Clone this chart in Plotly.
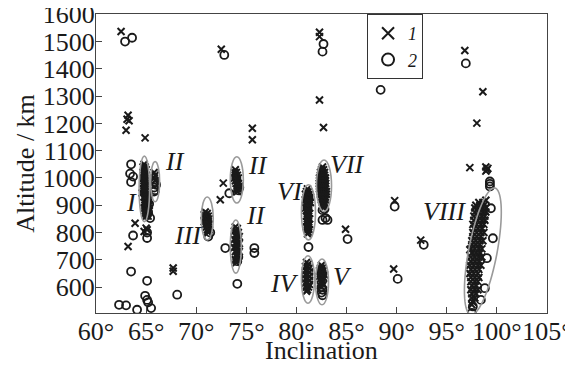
import math
import plotly.graph_objects as go

# ---------------- data (inclination deg, altitude km) ----------------
# series 1 (x markers) isolated objects
s1_x = [62.5, 63.2, 63.1, 63.3, 63.0, 64.9, 63.9, 63.2, 67.7, 67.7, 72.5, 75.6, 75.6,
        72.7, 72.4, 82.3, 82.3, 82.3, 82.7, 84.9, 89.8, 89.7, 92.4, 96.8, 98.6, 98.0,
        97.3, 98.9, 99.1, 98.9, 99.0, 97.3, 64.8, 65.0, 65.1, 98.9, 64.6]
s1_y = [1537, 1230, 1215, 1210, 1175, 1147, 834, 749, 670, 658, 1472, 1182, 1140,
        981, 920, 1534, 1518, 1286, 1185, 812, 917, 666, 772, 1467, 1316, 1201,
        1038, 1040, 1035, 1025, 1030, 737, 804, 816, 810, 918, 945]

# series 2 (o markers) isolated objects
s2_x = [62.9, 63.6, 63.5, 63.4, 63.7, 63.5, 63.7, 63.5, 65.1, 64.9, 65.1, 65.2, 62.3,
        63.0, 64.1, 65.5, 68.1, 65.1, 65.1, 65.4, 72.8, 82.7, 82.6, 88.4, 96.9, 73.3,
        72.9, 75.8, 75.8, 74.1, 81.2, 82.6, 82.9, 83.1, 85.1, 89.8, 90.1, 92.7, 99.3,
        99.3, 99.3, 99.6, 99.0, 98.8, 98.4, 97.6, 97.5, 99.4, 71.2, 71.4]
s2_y = [1500, 1514, 1050, 1016, 1005, 985, 789, 657, 623, 568, 553, 544, 535,
        533, 517, 523, 572, 800, 780, 853, 1451, 1491, 1463, 1323, 1420, 944,
        743, 743, 725, 612, 747, 846, 853, 846, 776, 895, 630, 755, 987,
        978, 969, 779, 706, 596, 553, 529, 505, 889, 785, 800]

# cluster I (upper part, x markers)
cI_up_x = [64.8, 64.7, 64.9, 64.8, 65.0, 64.7, 64.9, 64.8, 65.0, 64.7, 64.9, 64.8,
           65.0, 64.7, 64.9, 64.8, 65.0, 64.7, 64.9, 64.8, 65.0]
cI_up_y = [1050, 1040, 1040, 1030, 1030, 1020, 1020, 1010, 1010, 1000, 1000, 990,
           990, 980, 980, 970, 970, 960, 960, 950, 950]
# cluster I (lower part)
cI_lo_x = [65.1, 64.8, 65.0, 65.2, 64.9, 65.1, 65.3, 64.8, 65.0, 65.2, 64.9, 65.1,
           65.3, 64.8, 65.0, 65.2, 64.9, 65.1, 65.3, 64.9, 65.1, 65.0, 65.2]
cI_lo_y = [940, 930, 930, 930, 920, 920, 920, 910, 910, 910, 900, 900,
           900, 890, 890, 890, 880, 880, 880, 870, 870, 860, 860]
cI_lo_ox = [64.9, 65.2, 65.3, 65.1]
cI_lo_oy = [940, 875, 905, 865]

# cluster II (next to I)
cIIa_x = [65.8, 65.9, 65.8, 65.9]
cIIa_y = [1020, 1010, 1000, 990]
cIIa_ox = [65.9, 66.0, 65.8, 65.9, 65.8]
cIIa_oy = [985, 975, 965, 955, 950]

# cluster III
cIII_x = [70.9, 71.1, 70.8, 71.0, 71.2, 70.9, 71.1, 71.3, 70.8, 71.0, 71.2, 70.9,
          71.1, 71.3, 71.0, 71.2, 71.1, 71.3, 71.2]
cIII_y = [875, 870, 865, 860, 860, 850, 850, 850, 840, 840, 840, 830,
          830, 830, 820, 820, 810, 810, 800]

# cluster II (74 deg, upper)
cIIb_x = [73.9, 73.8, 74.0, 73.9, 74.1, 73.8, 74.0, 74.2, 73.9, 74.1, 74.0, 74.2,
          74.1, 74.3, 74.0, 74.2, 74.1]
cIIb_y = [1030, 1020, 1020, 1010, 1010, 1000, 1000, 1000, 990, 990, 980, 980,
          970, 970, 960, 960, 950]
cIIb_ox = [74.2, 74.3]
cIIb_oy = [955, 965]

# cluster II (74 deg, lower)
cIIc_x = [73.9, 74.1, 73.8, 74.0, 74.2, 73.9, 74.1, 74.3, 73.8, 74.0, 74.2, 73.9,
          74.1, 74.3, 73.8, 74.0, 74.2, 73.9, 74.1, 74.3, 74.0, 74.2, 73.9, 74.1, 74.0]
cIIc_y = [820, 815, 805, 805, 800, 790, 790, 785, 775, 775, 775, 760,
          760, 760, 745, 745, 745, 730, 730, 730, 715, 715, 700, 700, 690]
cIIc_ox = [74.1, 74.2]
cIIc_oy = [695, 710]

# cluster VI
cVI_x = [81.1, 81.0, 81.2, 80.9, 81.1, 81.3, 81.0, 81.2, 81.4, 80.9, 81.1, 81.3,
         81.0, 81.2, 81.4, 81.0, 81.2, 80.9, 81.1, 81.3, 81.0, 81.2, 81.1, 81.3,
         81.0, 81.2, 81.1, 81.3, 81.0, 81.2, 81.1, 81.3, 81.0, 81.2, 81.1, 81.3,
         81.2, 81.1]
cVI_y = [960, 950, 950, 940, 940, 940, 930, 930, 930, 920, 920, 920,
         910, 910, 910, 900, 900, 890, 890, 890, 880, 880, 870, 870,
         860, 860, 850, 850, 840, 840, 830, 830, 820, 820, 810, 810,
         800, 795]

# cluster VII
cVII_x = [82.6, 82.5, 82.7, 82.4, 82.6, 82.8, 82.4, 82.6, 82.8, 82.3, 82.5, 82.7,
          82.9, 82.3, 82.5, 82.7, 82.9, 82.3, 82.5, 82.7, 82.9, 82.3, 82.5, 82.7,
          82.9, 82.3, 82.5, 82.7, 82.9, 82.4, 82.6, 82.8, 83.0, 82.4, 82.6, 82.8,
          83.0, 82.5, 82.7, 82.9, 82.5, 82.7, 82.9, 82.6, 82.8, 82.6, 82.8, 82.7]
cVII_y = [1040, 1030, 1030, 1020, 1020, 1020, 1010, 1010, 1010, 1000, 1000, 1000,
          1000, 990, 990, 990, 990, 980, 980, 980, 980, 970, 970, 970,
          970, 960, 960, 960, 960, 950, 950, 950, 950, 940, 940, 940,
          940, 930, 930, 930, 920, 920, 920, 910, 910, 900, 900, 890]
cVII_ox = [82.6, 82.8]
cVII_oy = [882, 886]

# cluster IV
cIV_x = [81.0, 81.2, 80.9, 81.1, 81.3, 80.9, 81.1, 81.3, 80.9, 81.1, 81.3, 80.9,
         81.1, 81.3, 80.9, 81.1, 81.3, 81.0, 81.2, 81.1, 81.0]
cIV_y = [690, 685, 675, 675, 670, 660, 660, 655, 645, 645, 640, 630,
         630, 625, 615, 615, 610, 600, 600, 590, 585]

# cluster V
cV_x = [82.5, 82.4, 82.6, 82.3, 82.5, 82.7, 82.4, 82.6, 82.8, 82.3, 82.5, 82.7,
        82.4, 82.6, 82.5, 82.7, 82.4]
cV_y = [680, 670, 670, 660, 660, 660, 650, 650, 645, 640, 640, 635,
        630, 625, 615, 610, 605]
cV_ox = [82.5, 82.6, 82.5, 82.6]
cV_oy = [600, 590, 580, 570]

# cluster VIII
cVIII_x = [98.2, 98.6, 97.9, 98.3, 98.7, 97.8, 98.2, 98.6, 98.9, 97.8, 98.2, 98.6,
           98.9, 97.7, 98.1, 98.5, 98.8, 97.7, 98.1, 98.5, 98.8, 97.6, 98.0, 98.4,
           98.7, 97.7, 98.1, 98.5, 97.6, 98.0, 98.4, 98.7, 97.6, 98.0, 98.4, 97.5,
           97.9, 98.3, 98.6, 97.5, 97.9, 98.3, 97.4, 97.8, 98.2, 98.5, 97.5, 97.9,
           98.3, 97.4, 97.8, 98.2, 98.5, 97.4, 97.8, 98.2, 97.3, 97.7, 98.1, 98.4,
           97.4, 97.8, 98.2, 97.3, 97.7, 98.1, 97.4, 97.8, 98.2, 97.4, 97.8, 98.1,
           97.5, 97.9, 97.4, 97.8, 98.1, 97.5, 97.9, 97.5, 97.8, 97.6, 97.5]
cVIII_y = [910, 910, 900, 900, 900, 890, 890, 890, 890, 875, 875, 875,
           875, 860, 860, 860, 860, 845, 845, 845, 845, 830, 830, 830,
           830, 815, 815, 815, 800, 800, 800, 800, 785, 785, 785, 770,
           770, 770, 770, 755, 755, 755, 740, 740, 740, 740, 725, 725,
           725, 710, 710, 710, 710, 695, 695, 695, 680, 680, 680, 680,
           665, 665, 665, 650, 650, 650, 635, 635, 635, 620, 620, 620,
           605, 605, 590, 590, 590, 575, 575, 560, 560, 545, 535]

# ellipses around the groups: (x0, x1, y0, y1)
ellipses = [
    (64.3, 65.35, 840, 1080),
    (65.45, 66.35, 913, 1060),
    (70.5, 71.7, 773, 930),
    (73.4, 74.7, 908, 1078),
    (73.4, 74.5, 651, 846),
    (80.5, 81.9, 773, 975),
    (82.0, 83.5, 877, 1066),
    (80.5, 81.8, 541, 715),
    (81.9, 83.2, 535, 703),
]
# tilted ellipse VIII: end points of major axis and half width (deg)
e8_top = (99.8, 963)
e8_bottom = (97.4, 499)
e8_half_width = 1.42

group_labels = ["I", "II", "III", "II", "II", "VI", "VII", "IV", "V", "VIII"]
group_label_x = [63.5, 67.9, 69.2, 76.2, 76.0, 79.4, 85.1, 78.8, 84.6, 94.8]
group_label_y = [909, 1059, 788, 1044, 861, 949, 1048, 612, 640, 876]

x_ticks = [60, 65, 70, 75, 80, 85, 90, 95, 100, 105]
y_ticks = [600, 700, 800, 900, 1000, 1100, 1200, 1300, 1400, 1500, 1600]

# ---------------- assemble ----------------
x1 = s1_x + cI_up_x + cI_lo_x + cIIa_x + cIII_x + cIIb_x + cIIc_x + cVI_x + cVII_x + cIV_x + cV_x + cVIII_x
y1 = s1_y + cI_up_y + cI_lo_y + cIIa_y + cIII_y + cIIb_y + cIIc_y + cVI_y + cVII_y + cIV_y + cV_y + cVIII_y
x2 = s2_x + cI_lo_ox + cIIa_ox + cIIb_ox + cIIc_ox + cVII_ox + cV_ox
y2 = s2_y + cI_lo_oy + cIIa_oy + cIIb_oy + cIIc_oy + cVII_oy + cV_oy

FONT = "Liberation Serif"
INK = "#1a1a1a"
GRAY = "#9a9a9a"

fig = go.Figure()
fig.add_trace(go.Scatter(
    x=x1, y=y1, mode="markers", name="<i>1</i>",
    marker=dict(symbol="x-thin", size=7, line=dict(width=2, color=INK), color=INK),
))
fig.add_trace(go.Scatter(
    x=x2, y=y2, mode="markers", name="<i>2</i>",
    marker=dict(symbol="circle-open", size=8, line=dict(width=1.8, color=INK), color=INK),
))

shapes = []
for (a0, a1, b0, b1) in ellipses:
    shapes.append(dict(type="circle", xref="x", yref="y", x0=a0, x1=a1, y0=b0, y1=b1,
                       line=dict(color=GRAY, width=1.6)))

# tilted ellipse: work in an isotropic frame (km per degree as drawn)
k = 36.6
cx = (e8_top[0] + e8_bottom[0]) / 2
cy = (e8_top[1] + e8_bottom[1]) / 2
dxs = (e8_top[0] - e8_bottom[0]) * k
dys = e8_top[1] - e8_bottom[1]
L = math.hypot(dxs, dys)
ux, uy = dxs / L, dys / L
a = L / 2
b = e8_half_width * k
pts = []
for i in range(73):
    t = 2 * math.pi * i / 72
    px = a * math.cos(t) * ux - b * math.sin(t) * uy
    py = a * math.cos(t) * uy + b * math.sin(t) * ux
    pts.append((cx + px / k, cy + py))
path = "M " + " L ".join(f"{p[0]:.4f},{p[1]:.2f}" for p in pts) + " Z"
shapes.append(dict(type="path", xref="x", yref="y", path=path, line=dict(color=GRAY, width=1.6)))

annotations = []
for lab, lx, ly in zip(group_labels, group_label_x, group_label_y):
    annotations.append(dict(x=lx, y=ly, xref="x", yref="y", text=f"<i>{lab}</i>",
                            showarrow=False, font=dict(family=FONT, size=26, color=INK)))
# x-axis title
annotations.append(dict(x=0.5, y=-0.127, xref="paper", yref="paper", text="Inclination",
                        showarrow=False, xanchor="center", yanchor="middle",
                        font=dict(family=FONT, size=26, color=INK)))

# the page body adds an 8px offset; the figure is sized to end at the window edge
fig.update_layout(
    width=565, height=362,
    margin=dict(l=88, r=26, t=6, b=57, autoexpand=False),
    paper_bgcolor="white", plot_bgcolor="white",
    font=dict(family=FONT, size=26, color=INK),
    showlegend=True,
    legend=dict(x=0.601, y=1, xanchor="left", yanchor="top",
                bordercolor="#333", borderwidth=1, bgcolor="white",
                font=dict(family=FONT, size=18, color=INK),
                tracegroupgap=0, itemsizing="constant", itemwidth=30),
    shapes=shapes,
    annotations=annotations,
    xaxis=dict(range=[60, 105], tickvals=x_ticks, ticktext=[f"{v}°" for v in x_ticks],
               tickangle=0, ticklabeloverflow="allow", ticklabelstandoff=-5,
               ticks="inside", ticklen=6, tickcolor="#444", showline=True, mirror=True,
               linecolor="#444", linewidth=1.2, showgrid=False, zeroline=False,
               tickfont=dict(family=FONT, size=26, color=INK)),
    yaxis=dict(range=[505, 1601], tickvals=y_ticks, ticklabeloverflow="allow", ticklabelstandoff=-5,
               ticks="inside", ticklen=6, tickcolor="#444", showline=True, mirror=True,
               linecolor="#444", linewidth=1.2, showgrid=False, zeroline=False,
               tickfont=dict(family=FONT, size=26, color=INK),
               title=dict(text="Altitude / km", font=dict(family=FONT, size=26, color=INK), standoff=0)),
)

fig.write_html("out.html")
